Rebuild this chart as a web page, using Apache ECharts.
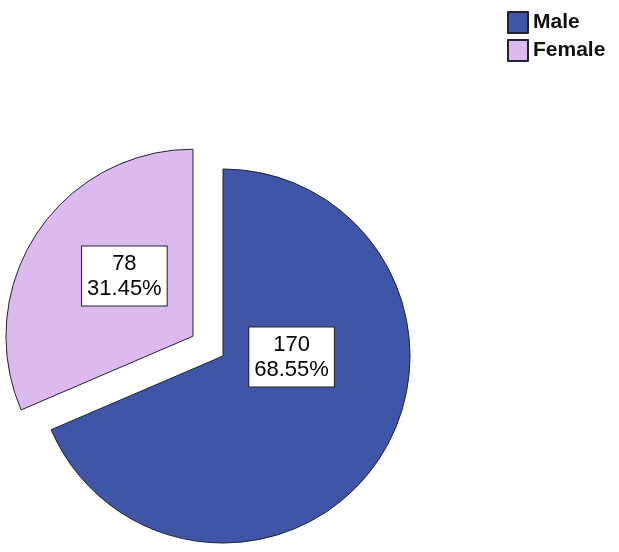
<!DOCTYPE html>
<html>
<head>
<meta charset="utf-8">
<script src="https://cdn.jsdelivr.net/npm/echarts@6/dist/echarts.min.js"></script>
<style>
html,body{margin:0;padding:0;background:#fff;}
#chart{width:619px;height:552px;}
</style>
</head>
<body>
<div id="chart"></div>
<script>
var categories = ['Male', 'Female'];
var counts = [170, 78];
var percents = ['68.55%', '31.45%'];
var colors = ['#3F55A8', '#DCB9EE'];

var chart = echarts.init(document.getElementById('chart'), null, {renderer: 'canvas'});
var labelShift = [[-12, -52], [12, -7]];
var data = categories.map(function (c, i) {
  return {
    name: c,
    value: counts[i],
    selected: i === 1,
    itemStyle: {color: colors[i]}
  };
});
chart.setOption({
  animation: false,
  backgroundColor: '#ffffff',
  legend: {
    orient: 'vertical',
    left: 502,
    top: 6,
    itemWidth: 20,
    itemHeight: 21,
    itemGap: 5,
    icon: 'rect',
    selectedMode: false,
    textStyle: {fontFamily: 'Liberation Sans, Arial, sans-serif', fontSize: 21, fontWeight: 'bold', color: '#111'},
    data: categories
  },
  series: [{
    type: 'pie',
    center: [223, 356],
    radius: 187,
    startAngle: 90,
    clockwise: true,
    selectedMode: 'single',
    selectedOffset: 36,
    avoidLabelOverlap: false,
    emphasis: {disabled: true},
    itemStyle: {borderColor: '#222233', borderWidth: 1},
    label: {
      show: true,
      position: 'inside',
      formatter: function (p) { return counts[p.dataIndex] + '\n' + percents[p.dataIndex]; },
      fontFamily: 'Liberation Sans, Arial, sans-serif',
      fontSize: 22,
      lineHeight: 25,
      color: '#000',
      backgroundColor: '#ffffff',
      borderColor: '#222',
      borderWidth: 1,
      padding: [5, 5, 4, 5],
      align: 'center'
    },
    labelLine: {show: false},
    labelLayout: function (p) {
      return {dx: labelShift[p.dataIndex][0], dy: labelShift[p.dataIndex][1]};
    },
    data: data
  }]
});
</script>
</body>
</html>
